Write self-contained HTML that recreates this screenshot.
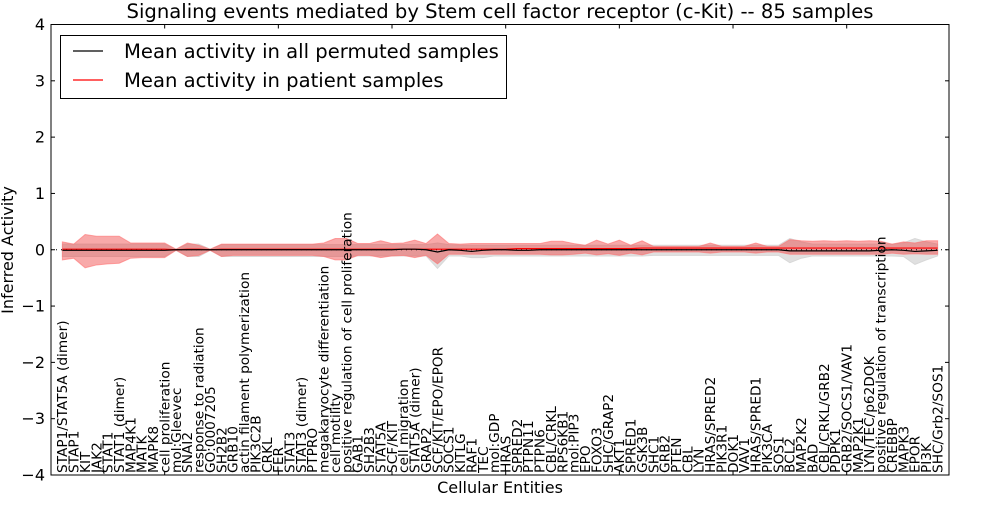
<!DOCTYPE html>
<html><head><meta charset="utf-8"><style>
body{margin:0;background:#fff;}
svg text{font-family:"DejaVu Sans","Liberation Sans",sans-serif;}
</style></head><body>
<svg id="chart" width="1000" height="500" xmlns="http://www.w3.org/2000/svg">
<rect x="0" y="0" width="1000" height="500" fill="#fff"/>
<text x="500" y="18" font-size="19.6" text-anchor="middle">Signaling events mediated by Stem cell factor receptor (c-Kit) -- 85 samples</text>
<g id="plot"></g>
<text transform="translate(13,250) rotate(-90)" font-size="16" text-anchor="middle">Inferred Activity</text>
<text x="500" y="493" font-size="16" text-anchor="middle">Cellular Entities</text>
<g>
<rect x="60.5" y="35.5" width="446" height="63" fill="#fff" stroke="#000" stroke-width="1"/>
<line x1="73" y1="51" x2="103" y2="51" stroke="#000" stroke-width="1.2"/>
<text x="124" y="58" font-size="19.6">Mean activity in all permuted samples</text>
<line x1="73" y1="80" x2="103" y2="80" stroke="#f00" stroke-width="1.2"/>
<text x="124" y="87" font-size="19.6">Mean activity in patient samples</text>
</g>
</svg>
<script>
const categories=["STAP1/STAT5A (dimer)","STAP1","KIT","JAK2","STAT1","STAT1 (dimer)","MAP4K1","MATK","MAPK8","cell proliferation","mol:Gleevec","SNAI2","response to radiation","GO:0007205","SH2B2","GRB10","actin filament polymerization","PIK3C2B","CRKL","FER","STAT3","STAT3 (dimer)","PTPRO","megakaryocyte differentiation","cell motility","positive regulation of cell proliferation","GAB1","SH2B3","STAT5A","SCF/KIT","cell migration","STAT5A (dimer)","GRAP2","SCF/KIT/EPO/EPOR","SOCS1","KITLG","RAF1","TEC","mol:GDP","HRAS","SPRED2","PTPN11","PTPN6","CBL/CRKL","RPS6KB1","mol:PIP3","EPO","FOXO3","SHC/GRAP2","AKT1","SPRED1","GSK3B","SHC1","GRB2","PTEN","CBL","LYN","HRAS/SPRED2","PIK3R1","DOK1","VAV1","HRAS/SPRED1","PIK3CA","SOS1","BCL2","MAP2K2","BAD","CBL/CRKL/GRB2","PDPK1","GRB2/SOCS1/VAV1","MAP2K1","LYN/TEC/p62DOK","positive regulation of transcription","CREBBP","MAPK3","EPOR","PI3K","SHC/Grb2/SOS1"];
const patientMean=[0.01,0.01,0.01,0.01,0.01,0.01,0.01,0.01,0.01,0.01,0.0,0.01,0.01,0.0,0.01,0.01,0.01,0.01,0.01,0.01,0.01,0.01,0.01,0.01,0.01,0.01,0.01,0.01,0.01,0.01,0.01,0.01,0.01,0.01,0.01,0.01,0.01,0.01,0.01,0.01,0.02,0.02,0.02,0.02,0.02,0.02,0.02,0.02,0.02,0.02,0.02,0.03,0.03,0.03,0.03,0.03,0.03,0.03,0.03,0.03,0.03,0.03,0.03,0.03,0.03,0.03,0.03,0.03,0.03,0.03,0.03,0.03,0.03,0.03,0.03,0.03,0.03,0.03];
const patientHi=[0.14,0.10,0.27,0.24,0.24,0.24,0.12,0.12,0.12,0.12,0.01,0.12,0.08,0.01,0.10,0.10,0.10,0.10,0.10,0.10,0.10,0.10,0.10,0.12,0.20,0.20,0.11,0.11,0.16,0.11,0.12,0.17,0.11,0.28,0.11,0.10,0.11,0.11,0.11,0.11,0.11,0.11,0.11,0.15,0.15,0.11,0.08,0.17,0.10,0.17,0.08,0.16,0.06,0.06,0.06,0.06,0.06,0.12,0.06,0.06,0.06,0.12,0.06,0.06,0.18,0.16,0.15,0.16,0.15,0.16,0.15,0.16,0.15,0.10,0.14,0.12,0.16,0.16];
const patientLo=[-0.18,-0.15,-0.32,-0.27,-0.25,-0.24,-0.15,-0.14,-0.14,-0.14,-0.01,-0.12,-0.10,-0.01,-0.12,-0.10,-0.10,-0.10,-0.10,-0.10,-0.10,-0.10,-0.10,-0.12,-0.18,-0.18,-0.10,-0.10,-0.14,-0.11,-0.10,-0.14,-0.10,-0.25,-0.08,-0.08,-0.08,-0.08,-0.08,-0.08,-0.08,-0.08,-0.08,-0.09,-0.09,-0.08,-0.06,-0.09,-0.07,-0.10,-0.06,-0.09,-0.04,-0.04,-0.04,-0.04,-0.04,-0.06,-0.04,-0.04,-0.04,-0.06,-0.04,-0.04,-0.08,-0.08,-0.08,-0.08,-0.08,-0.08,-0.08,-0.08,-0.08,-0.06,-0.08,-0.07,-0.08,-0.08];
const permMean=[-0.01,-0.01,-0.01,-0.01,-0.01,-0.01,-0.01,-0.01,-0.01,-0.01,0.0,0.0,0.0,0.0,0.0,0.0,0.0,0.0,0.0,0.0,0.0,0.0,0.0,0.0,0.0,0.0,0.0,0.0,0.0,0.0,0.01,0.01,0.0,-0.04,0.0,-0.01,-0.03,-0.01,0.0,0.0,-0.01,-0.01,0.0,0.0,0.0,0.0,0.0,0.0,0.0,0.0,0.0,0.0,0.0,0.0,0.0,0.0,0.0,0.0,0.0,0.0,0.0,0.0,0.0,0.0,-0.02,-0.02,-0.02,-0.02,-0.02,-0.02,-0.02,-0.02,-0.01,0.0,-0.01,-0.03,-0.02,-0.01];
const permHi=[0.1,0.1,0.1,0.1,0.1,0.1,0.1,0.1,0.1,0.1,0.01,0.1,0.1,0.01,0.09,0.09,0.09,0.09,0.09,0.09,0.09,0.09,0.09,0.09,0.09,0.09,0.09,0.09,0.09,0.09,0.09,0.09,0.09,0.12,0.09,0.08,0.08,0.08,0.08,0.08,0.08,0.08,0.08,0.08,0.08,0.08,0.08,0.08,0.08,0.08,0.08,0.08,0.08,0.08,0.08,0.08,0.08,0.08,0.08,0.08,0.08,0.08,0.08,0.08,0.2,0.14,0.1,0.1,0.1,0.1,0.1,0.1,0.1,0.1,0.12,0.2,0.14,0.1];
const permLo=[-0.12,-0.12,-0.12,-0.12,-0.12,-0.12,-0.12,-0.12,-0.12,-0.12,-0.01,-0.12,-0.12,-0.01,-0.12,-0.12,-0.12,-0.12,-0.12,-0.12,-0.12,-0.12,-0.12,-0.12,-0.12,-0.12,-0.11,-0.11,-0.11,-0.11,-0.11,-0.11,-0.11,-0.33,-0.11,-0.11,-0.14,-0.14,-0.11,-0.11,-0.11,-0.11,-0.11,-0.11,-0.11,-0.11,-0.11,-0.11,-0.11,-0.11,-0.11,-0.11,-0.1,-0.1,-0.1,-0.1,-0.1,-0.1,-0.1,-0.1,-0.1,-0.1,-0.1,-0.1,-0.23,-0.15,-0.11,-0.11,-0.11,-0.11,-0.11,-0.11,-0.11,-0.11,-0.12,-0.26,-0.18,-0.11];
const yTicks=[-4,-3,-2,-1,0,1,2,3,4];
const yTickLabels=["\u22124","\u22123","\u22122","\u22121","0","1","2","3","4"];
const xTopTicks=[10,20,30,40,50,60,70];

const NS="http://www.w3.org/2000/svg";
const L=51,R=949,T=24.5,B=475;
const xMin=0,xMax=categories.length+1,yMin=-4,yMax=4;
function xs(v){return L+(v-xMin)/(xMax-xMin)*(R-L);}
function ys(v){return B-(v-yMin)/(yMax-yMin)*(B-T);}
const g=document.getElementById('plot');
function mk(tag,attrs,parent){const e=document.createElementNS(NS,tag);for(const k in attrs)e.setAttribute(k,attrs[k]);(parent||g).appendChild(e);return e;}
function band(hi,lo){let d='';hi.forEach((v,i)=>{d+=(i?'L':'M')+xs(i+1).toFixed(2)+','+ys(v).toFixed(2);});for(let i=lo.length-1;i>=0;i--)d+='L'+xs(i+1).toFixed(2)+','+ys(lo[i]).toFixed(2);return d+'Z';}
function line(arr){return arr.map((v,i)=>(i?'L':'M')+xs(i+1).toFixed(2)+','+ys(v).toFixed(2)).join('');}

const pb=mk('path',{d:band(permHi,permLo),fill:'#e0e0e0',stroke:'#d8d8d8','stroke-width':1});


const rb=mk('path',{d:band(patientHi,patientLo),fill:'#ee3333','fill-opacity':0.42,stroke:'#ff7070','stroke-opacity':0.6,'stroke-width':1});


const zl=mk('line',{x1:L,x2:R,y1:ys(0),y2:ys(0),stroke:'#000','stroke-width':1,'stroke-dasharray':'1,4'});


const rl=mk('path',{d:line(patientMean),fill:'none',stroke:'#f00','stroke-width':1.2});


const bl=mk('path',{d:line(permMean),fill:'none',stroke:'#000','stroke-width':1.2});



const frame=mk('rect',{x:L,y:T,width:R-L,height:B-T,fill:'none',stroke:'#000','stroke-width':1});



yTicks.forEach((v,i)=>{
  const y=ys(v);
  const t1=mk('line',{x1:L,x2:L+4,y1:y,y2:y,stroke:'#000'});
  
  
  const t2=mk('line',{x1:R-4,x2:R,y1:y,y2:y,stroke:'#000'});
  
  
  const tx=mk('text',{x:L-6,y:y+5.5,'font-size':16,'text-anchor':'end'});
  tx.textContent=yTickLabels[i];
  
  
});
xTopTicks.forEach(v=>{
  const x=xs(v);
  const t=mk('line',{x1:x,x2:x,y1:T,y2:T+4,stroke:'#000'});
  
  
  const tb=mk('line',{x1:x,x2:x,y1:B-4,y2:B,stroke:'#000'});
  
  
});
categories.forEach((c,i)=>{
  const x=xs(i+1)+4.8;
  const tx=mk('text',{transform:'translate('+x.toFixed(2)+','+(B-2)+') rotate(-90)','font-size':13.7});
  tx.textContent=c;
  
  
});
</script>
</body></html>
